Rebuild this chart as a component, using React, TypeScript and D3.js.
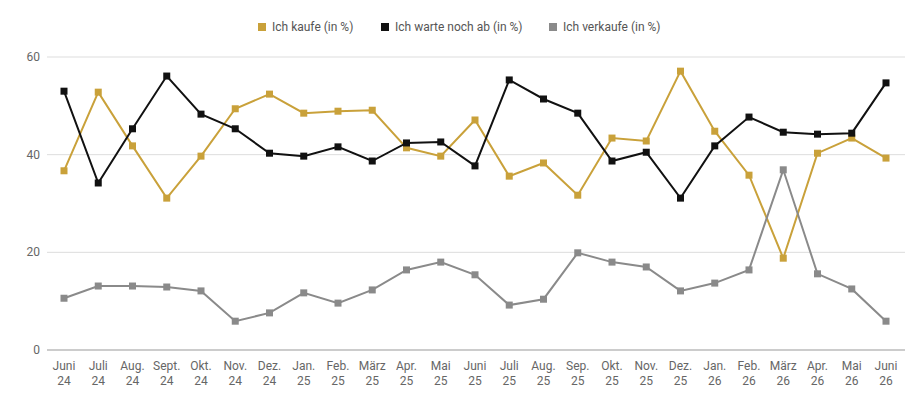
import * as d3 from "d3";
import { useEffect, useRef } from "react";

const months = ["Juni", "Juli", "Aug.", "Sept.", "Okt.", "Nov.", "Dez.", "Jan.", "Feb.", "März", "Apr.", "Mai", "Juni", "Juli", "Aug.", "Sep.", "Okt.", "Nov.", "Dez.", "Jan.", "Feb.", "März", "Apr.", "Mai", "Juni"];
const years = ["24", "24", "24", "24", "24", "24", "24", "25", "25", "25", "25", "25", "25", "25", "25", "25", "25", "25", "25", "26", "26", "26", "26", "26", "26"];
const kaufe = [36.7, 52.8, 41.8, 31.1, 39.7, 49.4, 52.4, 48.5, 48.9, 49.1, 41.4, 39.7, 47.1, 35.6, 38.3, 31.7, 43.4, 42.8, 57.1, 44.8, 35.8, 18.8, 40.3, 43.4, 39.3];
const warte = [53.0, 34.2, 45.3, 56.1, 48.3, 45.3, 40.3, 39.7, 41.6, 38.7, 42.4, 42.6, 37.7, 55.3, 51.4, 48.5, 38.7, 40.5, 31.1, 41.8, 47.7, 44.6, 44.2, 44.4, 54.7];
const verkaufe = [10.6, 13.1, 13.1, 12.9, 12.1, 5.9, 7.6, 11.7, 9.6, 12.3, 16.4, 18.0, 15.4, 9.2, 10.4, 19.9, 18.0, 17.0, 12.1, 13.7, 16.4, 36.9, 15.6, 12.5, 5.9];
const yTicks = [0, 20, 40, 60];

const series = [
  { name: "Ich kaufe (in %)", color: "#c9a13a", values: kaufe },
  { name: "Ich warte noch ab (in %)", color: "#111111", values: warte },
  { name: "Ich verkaufe (in %)", color: "#8a8a8a", values: verkaufe },
];

export default function App() {
  const ref = useRef<SVGSVGElement>(null);

  useEffect(() => {
    if (!ref.current) return;
    const svg = d3.select(ref.current);
    svg.selectAll("*").remove();
    const width = 924;
    const height = 407;
    const font = "Roboto, sans-serif";

    const x = d3.scaleLinear().domain([0, months.length - 1]).range([64, 886]);
    const y = d3.scaleLinear().domain([0, 60]).range([350, 57]);

    svg
      .append("g")
      .selectAll("line")
      .data(yTicks)
      .join("line")
      .attr("x1", 47)
      .attr("x2", 905)
      .attr("y1", (d) => y(d))
      .attr("y2", (d) => y(d))
      .attr("stroke", (d) => (d === 0 ? "#999" : "#ddd"))
      .attr("stroke-width", 1);

    svg
      .append("g")
      .selectAll("text")
      .data(yTicks)
      .join("text")
      .attr("x", 40)
      .attr("y", (d) => y(d) + 4)
      .attr("text-anchor", "end")
      .attr("font-family", font)
      .attr("font-size", 12)
      .attr("fill", "#666")
      .text((d) => d);

    const xl = svg
      .append("g")
      .selectAll("text")
      .data(months)
      .join("text")
      .attr("text-anchor", "middle")
      .attr("font-family", font)
      .attr("font-size", 12)
      .attr("fill", "#666");
    xl.append("tspan").attr("x", (_, i) => x(i)).attr("y", 370).text((d) => d);
    xl.append("tspan").attr("x", (_, i) => x(i)).attr("y", 385).text((_, i) => years[i]);

    const line = d3
      .line<number>()
      .x((_, i) => x(i))
      .y((d) => y(d));

    series.forEach((s) => {
      svg
        .append("path")
        .datum(s.values)
        .attr("fill", "none")
        .attr("stroke", s.color)
        .attr("stroke-width", 2)
        .attr("d", line);
      svg
        .append("g")
        .selectAll("rect")
        .data(s.values)
        .join("rect")
        .attr("x", (_, i) => x(i) - 3.5)
        .attr("y", (d) => y(d) - 3.5)
        .attr("width", 7)
        .attr("height", 7)
        .attr("fill", s.color);
    });

    const legendX = [262, 385, 553];
    const lg = svg
      .append("g")
      .selectAll("g")
      .data(series)
      .join("g")
      .attr("transform", (_, i) => `translate(${legendX[i]},27)`);
    lg.append("rect").attr("x", -4).attr("y", -4).attr("width", 8).attr("height", 8).attr("fill", (d) => d.color);
    lg.append("text")
      .attr("x", 10)
      .attr("y", 4)
      .attr("font-family", font)
      .attr("font-size", 12)
      .attr("fill", "#555")
      .text((d) => d.name);

    svg.attr("viewBox", `0 0 ${width} ${height}`);
  }, []);

  return <svg ref={ref} width={924} height={407} style={{ display: "block", margin: -8 }} />;
}
